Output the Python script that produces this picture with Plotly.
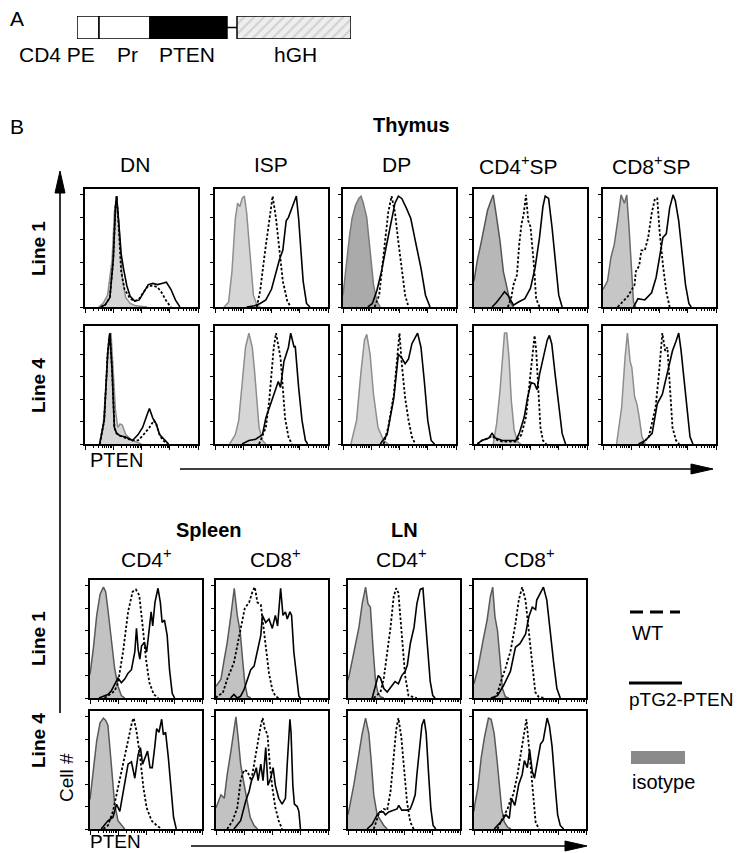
import math
import plotly.graph_objects as go

# ---------------- DATA ----------------
# Construct (panel A): segment names and lengths (relative units)
SEG_NAMES = ["CD4 PE", "Pr", "PTEN", "linker", "hGH"]
SEG_LEN = [22, 51, 77, 10, 114]

# Histogram curves: x = PTEN axis position (% of log axis), y = % of panel height
# Thymus, Line 1
DN_L1_ISO_X = [12, 16, 20, 24, 26, 28, 30, 33, 36, 40, 45, 55]
DN_L1_ISO_Y = [0, 3, 10, 40, 80, 94, 70, 25, 8, 3, 1, 0]
DN_L1_WT_X = [14, 18, 22, 25, 27, 28, 30, 32, 35, 40, 44, 48, 52, 56, 60, 64, 68, 72, 76]
DN_L1_WT_Y = [0, 2, 8, 40, 85, 94, 65, 30, 15, 7, 5, 7, 13, 18, 18, 17, 12, 5, 0]
DN_L1_TG_X = [14, 18, 22, 25, 27, 28, 30, 32, 34, 37, 40, 44, 48, 52, 56, 60, 64, 68, 72, 76, 80, 84]
DN_L1_TG_Y = [0, 2, 8, 40, 85, 94, 70, 45, 33, 18, 9, 5, 6, 12, 19, 20, 19, 20, 21, 15, 6, 0]

ISP_L1_ISO_X = [8, 12, 15, 18, 20, 22, 24, 26, 28, 30, 32, 34, 37, 40]
ISP_L1_ISO_Y = [0, 4, 30, 75, 88, 85, 92, 94, 80, 56, 30, 10, 2, 0]
ISP_L1_WT_X = [37, 40, 44, 48, 51, 54, 57, 60, 64, 67]
ISP_L1_WT_Y = [0, 14, 45, 73, 94, 75, 50, 22, 5, 0]
ISP_L1_TG_X = [28, 35, 40, 45, 50, 54, 57, 60, 63, 65, 68, 70, 72, 74, 76, 78, 81, 84]
ISP_L1_TG_Y = [0, 1, 3, 6, 15, 30, 40, 48, 73, 76, 83, 88, 94, 75, 48, 22, 3, 0]

DP_L1_ISO_X = [0, 2, 4, 6, 8, 11, 14, 16, 18, 21, 24, 27, 30, 33]
DP_L1_ISO_Y = [10, 25, 45, 62, 75, 86, 92, 94, 88, 76, 47, 19, 5, 0]
DP_L1_WT_X = [28, 32, 36, 40, 43, 46, 49, 52, 55, 58]
DP_L1_WT_Y = [0, 10, 45, 80, 94, 80, 55, 30, 10, 0]
DP_L1_TG_X = [22, 26, 30, 34, 38, 42, 46, 49, 52, 56, 60, 64, 69, 73, 77]
DP_L1_TG_Y = [0, 3, 14, 30, 50, 70, 88, 94, 92, 84, 75, 56, 33, 10, 0]

CD4SP_L1_ISO_X = [0, 3, 6, 9, 12, 15, 17, 20, 23, 26, 29, 32, 35]
CD4SP_L1_ISO_Y = [22, 40, 53, 68, 82, 90, 95, 76, 56, 30, 16, 4, 0]
CD4SP_L1_WT_X = [30, 33, 35, 38, 40, 42, 44, 46, 48, 50, 53, 55, 58]
CD4SP_L1_WT_Y = [0, 8, 19, 27, 53, 70, 79, 95, 73, 68, 36, 7, 0]
CD4SP_L1_TG_X = [16, 20, 24, 27, 30, 35, 39, 45, 50, 54, 58, 61, 63, 66, 69, 72, 75, 78]
CD4SP_L1_TG_Y = [0, 4, 9, 13, 10, 1.5, 4, 7, 16, 33, 59, 85, 94, 92, 68, 36, 10, 0]

CD8SP_L1_ISO_X = [0, 4, 7, 10, 13, 16, 19, 21, 23, 25, 27, 29]
CD8SP_L1_ISO_Y = [15, 22, 42, 53, 73, 95, 88, 95, 68, 33, 4, 0]
CD8SP_L1_WT_X = [13, 22, 28, 29, 32, 34, 37, 40, 43, 46, 48, 50, 53, 56, 59]
CD8SP_L1_WT_Y = [0, 9, 19, 30, 35, 48, 48, 59, 79, 92, 92, 65, 36, 13, 0]
CD8SP_L1_TG_X = [27, 31, 37, 43, 47, 50, 53, 56, 59, 62, 64, 67, 70, 73, 76, 78]
CD8SP_L1_TG_Y = [0, 7, 6, 12, 25, 42, 59, 62, 84, 95, 90, 73, 48, 19, 3, 0]

# Thymus, Line 4
DN_L4_ISO_X = [13, 16, 19, 21, 23, 25, 27, 29, 31, 33, 36, 42, 50]
DN_L4_ISO_Y = [0, 15, 55, 90, 94, 60, 28, 14, 17, 16, 8, 3, 0]
DN_L4_WT_X = [13, 17, 20, 22, 24, 26, 28, 31, 36, 42, 47, 51, 57, 61, 63, 66, 69, 73]
DN_L4_WT_Y = [0, 20, 76, 94, 62, 14, 9, 7, 5, 3, 3, 7, 14, 20, 17, 8, 3, 0]
DN_L4_TG_X = [13, 17, 20, 22, 24, 26, 28, 31, 36, 42, 47, 51, 55, 57, 60, 63, 66, 71, 74]
DN_L4_TG_Y = [0, 20, 76, 94, 62, 14, 9, 7, 6, 3, 8, 14, 25, 30, 22, 17, 8, 3, 0]

ISP_L4_ISO_X = [13, 18, 21, 24, 27, 30, 33, 35, 37, 39, 42, 45]
ISP_L4_ISO_Y = [0, 8, 20, 48, 82, 94, 82, 62, 34, 14, 3, 0]
ISP_L4_WT_X = [39, 45, 48, 50, 52, 54, 56, 58, 60, 62, 65, 68]
ISP_L4_WT_Y = [0, 14, 37, 62, 82, 94, 82, 73, 48, 22, 6, 0]
ISP_L4_TG_X = [24, 30, 36, 42, 45, 50, 53, 56, 58, 61, 65, 67, 70, 71, 74, 77, 80, 82]
ISP_L4_TG_Y = [0, 3, 4, 8, 22, 37, 45, 53, 48, 70, 82, 94, 82, 83, 48, 20, 3, 0]

DP_L4_ISO_X = [7, 12, 16, 19, 21, 24, 27, 31, 36, 40]
DP_L4_ISO_Y = [0, 20, 62, 88, 93, 76, 42, 14, 3, 0]
DP_L4_WT_X = [36, 40, 45, 48, 50, 52, 55, 58, 61, 64]
DP_L4_WT_Y = [0, 14, 42, 76, 94, 68, 39, 20, 6, 0]
DP_L4_TG_X = [33, 39, 45, 49, 52, 55, 58, 61, 66, 69, 72, 75, 78, 81]
DP_L4_TG_Y = [0, 8, 39, 76, 73, 68, 72, 85, 94, 82, 53, 20, 3, 0]

CD4SP_L4_ISO_X = [17, 20, 23, 25.5, 27, 29, 31, 33, 35.5, 38.5, 41.5]
CD4SP_L4_ISO_Y = [0, 17, 45, 73, 94, 94, 73, 37, 12, 2, 0]
CD4SP_L4_WT_X = [3, 7, 13, 16, 19, 25, 37, 42, 46, 49, 51.5, 53.6, 55, 56.7, 58.8, 61, 64]
CD4SP_L4_WT_Y = [0, 3, 5, 7, 4, 2, 2, 8, 23, 51, 73, 92, 80, 45, 14, 3, 0]
CD4SP_L4_TG_X = [3, 7, 13, 16, 19, 25, 31, 37, 40, 44.5, 47.5, 50.6, 53.6, 55.8, 58, 61, 64.8, 66.7, 68.8, 71.8, 75, 78, 81]
CD4SP_L4_TG_Y = [0, 3, 5, 9, 5, 3, 3, 3, 9, 23, 40, 52, 51, 46, 59, 73, 88, 92, 85, 59, 31, 9, 0]

CD8SP_L4_ISO_X = [12, 16.5, 19.5, 21.6, 24, 25.5, 28, 30, 32, 34.5, 37.5]
CD8SP_L4_ISO_Y = [0, 31, 73, 94, 70, 65, 40, 34, 23, 6, 0]
CD8SP_L4_WT_X = [34.5, 40.5, 46.5, 49.5, 52.5, 55, 57, 59, 61.5, 64.6, 67.5]
CD8SP_L4_WT_Y = [0, 6, 31, 59, 94, 79, 82, 48, 14, 3, 0]
CD8SP_L4_TG_X = [31.5, 37.5, 43.5, 48, 52.5, 55.5, 58.5, 61.5, 64.6, 67, 69, 72, 75, 77, 79.6]
CD8SP_L4_TG_Y = [0, 3, 9, 34, 42, 54, 65, 79, 87, 94, 80, 51, 20, 6, 0]

# Spleen / LN, Line 1
SPL_CD4_L1_ISO_X = [0, 3, 6, 9, 12, 14, 16, 19, 22, 25, 28, 31]
SPL_CD4_L1_ISO_Y = [20, 42, 70, 88, 94, 90, 75, 48, 25, 10, 2, 0]
SPL_CD4_L1_WT_X = [13, 18, 22, 25, 29.5, 34, 38, 41, 44, 47, 50, 53, 57, 61]
SPL_CD4_L1_WT_Y = [0, 3, 6, 13, 39, 73, 90, 92, 87, 61, 33, 13, 3, 0]
SPL_CD4_L1_TG_X = [8, 16, 19, 22, 25, 28, 31, 34, 37, 40, 41.5, 43, 44.5, 46, 48.5, 50.6, 52.8, 54.6, 56, 58, 60.7, 62.8, 64.4, 66.5, 68.9, 71, 73.4, 75.5]
SPL_CD4_L1_TG_Y = [0, 3, 6, 11, 17, 13, 16, 21, 24, 39, 59, 41, 33, 44, 47, 39, 59, 73, 61, 81, 93, 81, 64, 66, 53, 24, 4, 0]

SPL_CD8_L1_ISO_X = [0, 4.4, 7.4, 10, 13.3, 16.3, 19, 21.6, 23.7, 25.7, 28, 31]
SPL_CD8_L1_ISO_Y = [10, 16, 33, 47, 70, 93, 70, 56, 33, 13, 1.5, 0]
SPL_CD8_L1_WT_X = [0, 1.5, 6, 10, 16, 20.4, 23.7, 25.7, 29.6, 32.5, 34.6, 37, 40, 41.4, 44.4, 47.3, 50.3, 53, 56]
SPL_CD8_L1_WT_Y = [0, 2, 4, 16, 30, 50, 67, 76, 81, 90, 94, 81, 79, 67, 41, 21, 7, 1.5, 0]
SPL_CD8_L1_TG_X = [13, 16, 19, 22, 25, 28, 31, 34, 37, 40, 41.4, 44.4, 47.3, 50.3, 53, 55, 57.7, 59.8, 62, 63.6, 66, 67.5, 69.5, 72, 74, 75.4]
SPL_CD8_L1_TG_Y = [0, 3, 0, 1.5, 7, 16, 24, 27, 39, 53, 70, 64, 67, 59, 70, 61, 93, 70, 73, 67, 73, 70, 39, 16, 1.5, 0]

LN_CD4_L1_ISO_X = [0, 1, 5.3, 9.8, 12.7, 15.7, 17.8, 20, 22.5, 24.6, 26.6, 29, 32]
LN_CD4_L1_ISO_Y = [15, 19, 39, 60, 80, 94, 80, 77, 40, 14, 5, 1, 0]
LN_CD4_L1_WT_X = [23, 29, 32, 35, 38, 40.8, 43, 45, 48, 51, 54, 57, 61.5]
LN_CD4_L1_WT_Y = [0, 5, 17, 37, 60, 86, 93, 89, 54, 19, 2, 1, 0]
LN_CD4_L1_TG_X = [21.6, 24.6, 27, 29, 32, 35, 39.3, 42, 45, 48, 51, 53, 55.6, 59, 61.5, 64.5, 66.9, 69, 71, 73.4, 75.7, 77.8]
LN_CD4_L1_TG_Y = [0, 11, 19, 17, 8, 5, 11, 14, 12, 19, 22.5, 28, 46, 60, 80, 92, 93, 69, 40, 14, 2, 0]

LN_CD8_L1_ISO_X = [0, 0.6, 3.5, 7.9, 11.7, 14.6, 16.7, 18.7, 21, 23.4, 25.4, 28, 31]
LN_CD8_L1_ISO_Y = [12, 14, 25, 48, 66, 86, 94, 69, 57, 31, 8, 1, 0]
LN_CD8_L1_WT_X = [18, 21, 24, 28, 32.7, 37, 40, 43, 46, 49, 52, 54.7, 57.6, 62]
LN_CD8_L1_WT_Y = [0, 4, 14, 25, 40, 63, 83, 94, 83, 54, 25, 5, 1, 0]
LN_CD8_L1_TG_X = [15, 21, 26.6, 32.5, 37, 41, 46, 49, 52, 55, 56, 59, 62, 65, 68, 71, 74, 77]
LN_CD8_L1_TG_Y = [0, 2, 11, 22.5, 43, 46, 54, 69, 77, 75, 83, 89, 94, 83, 54, 31, 8, 0]

# Spleen / LN, Line 4
SPL_CD4_L4_ISO_X = [0, 3, 6, 9, 12, 14, 16, 19, 22, 25, 28, 31]
SPL_CD4_L4_ISO_Y = [25, 50, 75, 90, 94, 92, 88, 55, 21, 7, 3, 0]
SPL_CD4_L4_WT_X = [12, 16, 20.5, 25, 29.8, 34, 37.6, 39, 41.5, 44.5, 47.7, 50.6, 55, 59.6, 64]
SPL_CD4_L4_WT_Y = [0, 3, 15, 35, 55, 74, 91, 94, 83, 63, 35, 18, 7, 3, 0]
SPL_CD4_L4_TG_X = [10, 16, 20.5, 23.7, 26.6, 31, 34, 37, 40, 43, 45, 47, 49, 51.4, 53.6, 55.6, 58, 59.5, 61.6, 64, 65.5, 67.5, 70, 72.5, 74.6, 77]
SPL_CD4_L4_TG_Y = [0, 7, 10, 21, 15, 38, 55, 57, 43, 63, 69, 55, 60, 66, 52, 52, 71, 85, 82, 93, 80, 82, 60, 29, 10, 0]

SPL_CD8_L4_ISO_X = [0, 4.4, 7.4, 10, 13.3, 15.7, 17.8, 19.8, 22, 24.5, 27.5, 30.5, 34, 37]
SPL_CD8_L4_ISO_Y = [18, 29, 26, 46, 66, 82, 95, 77, 55, 41, 24, 10, 3, 0]
SPL_CD8_L4_WT_X = [10, 14.8, 19, 22, 25, 28, 31.5, 34, 37, 40, 41.7, 43.5, 46, 48, 50.3, 53, 56, 59]
SPL_CD8_L4_WT_Y = [0, 7, 18, 41, 50, 49, 41, 55, 74, 88, 94, 85, 80, 55, 35, 18, 7, 0]
SPL_CD8_L4_TG_X = [16, 22, 26.6, 29.6, 31.7, 34, 36, 37.6, 40, 42, 44.4, 46.4, 48.8, 51, 53, 56, 59, 62, 63.6, 65, 66, 67, 68.6, 70, 72.5, 74, 75.4]
SPL_CD8_L4_TG_Y = [0, 7, 24, 32, 41, 46, 52, 41, 55, 41, 69, 37, 43, 52, 37, 26, 21, 26, 55, 85, 93, 82, 37, 21, 19, 15, 0]

LN_CD4_L4_ISO_X = [0, 1, 5.3, 9.8, 12.7, 15.7, 18.6, 20.7, 23, 26, 29.6, 32, 35]
LN_CD4_L4_ISO_Y = [12, 17, 38, 64, 81, 94, 81, 58, 29, 12, 6, 3, 0]
LN_CD4_L4_WT_X = [23, 27.5, 32, 35, 38, 40.8, 43, 45, 47.6, 49.7, 52.7, 55.6, 58.6]
LN_CD4_L4_WT_Y = [0, 13, 17, 16, 32, 61, 84, 94, 78, 55, 23, 6, 0]
LN_CD4_L4_TG_X = [17, 21.6, 26, 28.4, 31.4, 33.4, 36.4, 40.8, 43.8, 45.3, 48, 52.7, 55.6, 58, 60, 61.5, 64, 66, 68, 69.8, 72, 74, 76, 78.4]
LN_CD4_L4_TG_Y = [0, 4, 12, 14.5, 14.5, 12, 14.5, 16, 17, 20, 16, 16, 17, 23, 29, 46, 72, 88, 93, 81, 46, 17, 3, 0]

LN_CD8_L4_ISO_X = [0, 0.6, 3.5, 6.5, 9.4, 12.9, 15.3, 18, 20.6, 22.6, 24.7, 27, 30, 33]
LN_CD8_L4_ISO_Y = [15, 20, 35, 61, 78, 94, 93, 81, 58, 35, 17, 6, 1.5, 0]
LN_CD8_L4_WT_X = [21, 25.3, 30, 33, 35, 38.8, 41.8, 44.7, 46.8, 49, 52, 55, 58]
LN_CD8_L4_WT_Y = [0, 9, 17, 26, 29, 46, 64, 81, 93, 70, 35, 6, 0]
LN_CD8_L4_TG_X = [18, 24, 28.5, 31.5, 33.5, 36.5, 40, 43, 45, 47.6, 49.7, 52, 54, 56.5, 59.4, 61.8, 64, 65.3, 67.4, 69.7, 72.6, 74.7, 77, 80]
LN_CD8_L4_TG_Y = [0, 6, 12, 9, 26, 20, 38, 46, 58, 52, 67, 49, 43, 55, 72, 75, 87, 94, 87, 70, 35, 12, 3, 0]

THYMUS_COLS = ["DN", "ISP", "DP", "CD4SP", "CD8SP"]
THYMUS_LABELS = ["DN", "ISP", "DP", "CD4<sup>+</sup>SP", "CD8<sup>+</sup>SP"]
PERIPH_COLS = ["SPL_CD4", "SPL_CD8", "LN_CD4", "LN_CD8"]
PERIPH_LABELS = ["CD4<sup>+</sup>", "CD8<sup>+</sup>", "CD4<sup>+</sup>", "CD8<sup>+</sup>"]
ROWS = ["L1", "L4"]
ROW_LABELS = ["Line 1", "Line 4"]

# ---------------- LAYOUT / STYLE ----------------
W, H = 742, 853
FONT = "Liberation Sans, Arial, Helvetica, sans-serif"


def px(x):
    return x / W


def py(y):
    return 1 - y / H


THY_LEFT = [77, 207, 335, 466, 595]
THY_W = 113
THY_TOP = [181, 318]
THY_H = 118
PER_LEFT = [82, 208, 340, 466]
PER_W = 112
PER_TOP = [572, 703]
PER_H = 118

ISO_STYLE = {
    "DN_L1": ("#d6d6d6", "#8e8e8e"), "ISP_L1": ("#d6d6d6", "#8e8e8e"),
    "DP_L1": ("#aaaaaa", "#7a7a7a"), "CD4SP_L1": ("#b7b7b7", "#555555"),
    "CD8SP_L1": ("#c6c6c6", "#6a6a6a"),
}
DEFAULT_THY_ISO = ("#d6d6d6", "#8e8e8e")
PER_ISO = ("#c2c2c2", "#595959")

panels = []
for r, row in enumerate(ROWS):
    for c, col in enumerate(THYMUS_COLS):
        key = f"{col}_{row}"
        panels.append((key, THY_LEFT[c], THY_TOP[r], THY_W, THY_H,
                       ISO_STYLE.get(key, DEFAULT_THY_ISO)))
for r, row in enumerate(ROWS):
    for c, col in enumerate(PERIPH_COLS):
        key = f"{col}_{row}"
        panels.append((key, PER_LEFT[c], PER_TOP[r], PER_W, PER_H, PER_ISO))

G = globals()
fig = go.Figure()
layout = {}

major_x = [0, 25, 50, 75, 100]
minor_x = [25 * (d + math.log10(k)) for d in range(4) for k in range(2, 10)]
y_ticks = [0, 19, 38, 57, 76, 95]

for i, (key, left, top, w, h, iso_style) in enumerate(panels, start=1):
    xa = "x" if i == 1 else f"x{i}"
    ya = "y" if i == 1 else f"y{i}"
    fill, edge = iso_style
    fig.add_trace(go.Scatter(x=G[f"{key}_ISO_X"], y=G[f"{key}_ISO_Y"], mode="lines",
                             fill="tozeroy", fillcolor=fill,
                             line=dict(color=edge, width=1.5),
                             xaxis=xa, yaxis=ya, showlegend=False, hoverinfo="skip"))
    fig.add_trace(go.Scatter(x=G[f"{key}_WT_X"], y=G[f"{key}_WT_Y"], mode="lines",
                             line=dict(color="black", width=1.8, dash="2.5px,2px"),
                             xaxis=xa, yaxis=ya, showlegend=False, hoverinfo="skip"))
    fig.add_trace(go.Scatter(x=G[f"{key}_TG_X"], y=G[f"{key}_TG_Y"], mode="lines",
                             line=dict(color="black", width=1.6),
                             xaxis=xa, yaxis=ya, showlegend=False, hoverinfo="skip"))
    axname = "xaxis" if i == 1 else f"xaxis{i}"
    ayname = "yaxis" if i == 1 else f"yaxis{i}"
    common = dict(showline=True, mirror=True, linecolor="black", linewidth=1.6,
                  showgrid=False, zeroline=False, showticklabels=False,
                  ticks="outside", tickcolor="black", tickwidth=1, fixedrange=True)
    layout[axname] = dict(common, domain=[px(left), px(left + w)], range=[0, 100],
                          anchor=ya, tickmode="array", tickvals=major_x, ticklen=4,
                          minor=dict(tickmode="array", tickvals=minor_x, ticklen=2,
                                     ticks="outside", tickcolor="black", tickwidth=1))
    layout[ayname] = dict(common, domain=[py(top + h), py(top)], range=[0, 100],
                          anchor=xa, tickmode="array", tickvals=y_ticks, ticklen=3)

# ---- Construct (panel A) on its own axis pair
ci = len(panels) + 1
cx, cy = f"x{ci}", f"y{ci}"
starts = [sum(SEG_LEN[:k]) for k in range(len(SEG_LEN))]
ends = [s + l for s, l in zip(starts, SEG_LEN)]
box_fill = {"CD4 PE": "white", "Pr": "white", "PTEN": "black"}
for name, s, e in zip(SEG_NAMES, starts, ends):
    if name == "linker":
        fig.add_trace(go.Scatter(x=[s, e], y=[0.5, 0.5], mode="lines",
                                 line=dict(color="black", width=1.5),
                                 xaxis=cx, yaxis=cy, showlegend=False, hoverinfo="skip"))
    elif name == "hGH":
        fig.add_trace(go.Scatter(x=[s, e, e, s, s], y=[0, 0, 1, 1, 0], mode="lines",
                                 fill="toself", fillcolor="#ececec",
                                 fillpattern=dict(shape="/", bgcolor="#eeeeee",
                                                  fgcolor="#b4b4b4", size=7, solidity=0.3),
                                 line=dict(color="black", width=1.5),
                                 xaxis=cx, yaxis=cy, showlegend=False, hoverinfo="skip"))
    else:
        fig.add_trace(go.Scatter(x=[s, e, e, s, s], y=[0, 0, 1, 1, 0], mode="lines",
                                 fill="toself", fillcolor=box_fill[name],
                                 line=dict(color="black", width=1.5),
                                 xaxis=cx, yaxis=cy, showlegend=False, hoverinfo="skip"))
layout[f"xaxis{ci}"] = dict(domain=[px(69), px(343)], range=[0, sum(SEG_LEN)],
                            anchor=cy, visible=False, fixedrange=True)
layout[f"yaxis{ci}"] = dict(domain=[py(31), py(8)], range=[0, 1],
                            anchor=cx, visible=False, fixedrange=True)

# ---------------- TEXT ----------------
ann = []


def text(t, x, y, size=21, bold=False, angle=0, xanchor="center"):
    ann.append(dict(text=f"<b>{t}</b>" if bold else t, x=px(x), y=py(y),
                    xref="paper", yref="paper", showarrow=False, textangle=angle,
                    xanchor=xanchor, yanchor="middle",
                    font=dict(family=FONT, size=size, color="black")))


text("A", 9, 10)
text("B", 9, 119)
for name, cxp in zip(["CD4 PE", "Pr", "PTEN", "hGH"], [49, 120, 179, 287]):
    text(name, cxp, 46)

text("Thymus", 403, 117, size=20, bold=True)
for lab, cxp in zip(THYMUS_LABELS, [127, 263, 388, 510, 643]):
    text(lab, cxp, 157)
for lab, yc in zip(ROW_LABELS, [240, 377]):
    text(lab, 30, yc, size=19, bold=True, angle=-90)
text("PTEN", 80, 452, size=20, xanchor="left")

text("Spleen", 201, 522, size=20, bold=True)
text("LN", 397, 522, size=20, bold=True)
for lab, cxp in zip(PERIPH_LABELS, [138, 267, 393, 521]):
    text(lab, cxp, 550)
for lab, yc in zip(ROW_LABELS, [630, 732]):
    text(lab, 30, yc, size=19, bold=True, angle=-90)
text("Cell #", 58, 770, size=19, angle=-90)
text("PTEN", 80, 833, size=19, xanchor="left")

# legend texts
text("WT", 622, 625, size=20, xanchor="left")
text("pTG2-PTEN", 619, 691, size=19, xanchor="left")
text("isotype", 622, 774, size=20, xanchor="left")

# ---------------- SHAPES (arrows, legend keys) ----------------
shapes = []


def pline(x0, y0, x1, y1, width=1.6, dash=None):
    d = dict(type="line", xref="paper", yref="paper", x0=px(x0), y0=py(y0),
             x1=px(x1), y1=py(y1), line=dict(color="black", width=width))
    if dash:
        d["line"]["dash"] = dash
    shapes.append(d)


def head(tipx, tipy, direction, length=22, half=5):
    if direction == "up":
        pts = [(tipx, tipy), (tipx - half, tipy + length), (tipx + half, tipy + length)]
    else:
        pts = [(tipx, tipy), (tipx - length, tipy - half), (tipx - length, tipy + half)]
    path = "M " + " L ".join(f"{px(a)},{py(b)}" for a, b in pts) + " Z"
    shapes.append(dict(type="path", xref="paper", yref="paper", path=path,
                       fillcolor="black", line=dict(color="black", width=1)))


# vertical Cell # axis arrow
pline(52, 180, 52, 705)
head(52, 163, "up")
# thymus PTEN arrow
pline(172, 461, 690, 461)
head(705, 461, "right")
# periphery PTEN arrow
pline(183, 838, 565, 838)
head(579, 838, "right")

# legend keys
pline(622, 604, 672, 604, width=3, dash="13px,7px")
pline(621, 675, 674, 675, width=3)
shapes.append(dict(type="rect", xref="paper", yref="paper", x0=px(623), x1=px(677),
                   y0=py(756), y1=py(743), fillcolor="#8a8a8a", line=dict(width=0)))

layout.update(dict(width=W, height=H, margin=dict(l=0, r=0, t=0, b=0),
                   paper_bgcolor="white", plot_bgcolor="rgba(0,0,0,0)",
                   annotations=ann, shapes=shapes, showlegend=False,
                   font=dict(family=FONT)))
fig.update_layout(**layout)
fig.write_html("out.html")
